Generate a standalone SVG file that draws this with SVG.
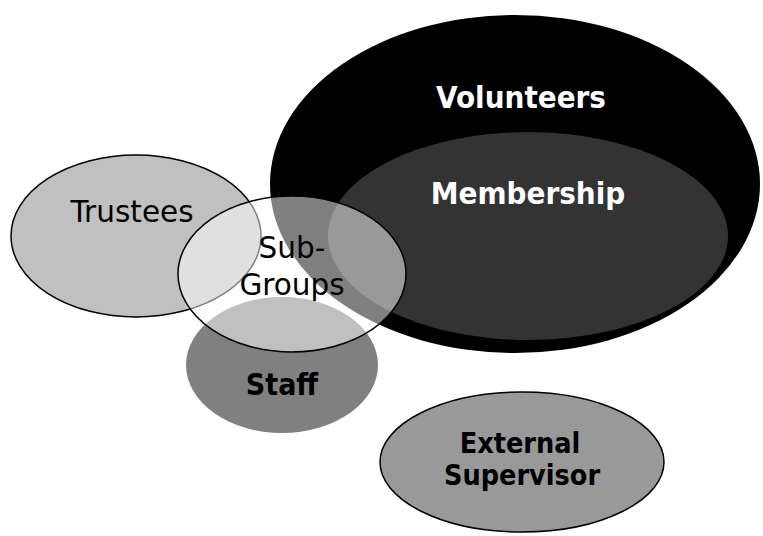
<svg xmlns="http://www.w3.org/2000/svg" width="763" height="536" viewBox="0 0 763 536">
<style>
text{font-family:"DejaVu Sans","Verdana",sans-serif;text-anchor:middle;font-size:29.5px}
.b{font-family:"DejaVu Sans Condensed","DejaVu Sans",sans-serif;font-stretch:condensed;font-weight:bold;font-size:31px}
.s{font-size:28.5px}
.w{fill:#ffffff}
.k{fill:#000000}
.o{stroke:#000;stroke-width:1.5}
</style>
<rect width="763" height="536" fill="#ffffff"/>
<g id="volunteers">
<ellipse cx="515" cy="184" rx="245" ry="169" fill="#000000"/>
</g>
<g id="membership">
<ellipse cx="528" cy="236" rx="200" ry="104" fill="#333333"/>
</g>
<g id="trustees">
<ellipse class="o" cx="136" cy="236" rx="125" ry="81" fill="#c0c0c0"/>
</g>
<g id="staff">
<ellipse cx="282" cy="365" rx="96" ry="68" fill="#808080"/>
</g>
<g id="subgroups">
<ellipse class="o" cx="292" cy="274" rx="114" ry="78" fill="#ffffff" fill-opacity="0.5"/>
</g>
<g id="external-supervisor">
<ellipse class="o" cx="522" cy="462" rx="142" ry="70" fill="#999999"/>
</g>
<g id="labels">
<text class="b w" x="521" y="108">Volunteers</text>
<text class="b w" x="528" y="204">Membership</text>
<text class="k" x="132" y="222">Trustees</text>
<text class="k" x="292" y="258">Sub-</text>
<text class="k" x="292" y="295">Groups</text>
<text class="b k" x="282" y="395" style="font-size:30px">Staff</text>
<text class="b k s" x="520" y="453">External</text>
<text class="b k s" x="522" y="485">Supervisor</text>
</g>
</svg>
